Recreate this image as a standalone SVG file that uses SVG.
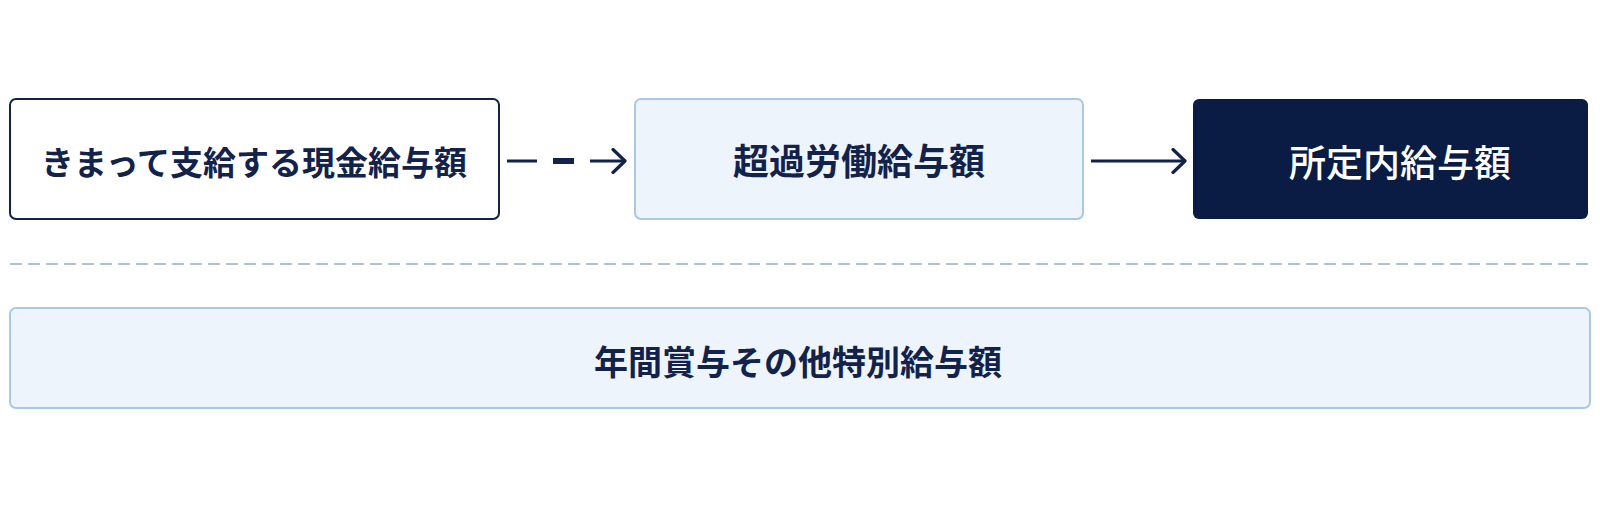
<svg xmlns="http://www.w3.org/2000/svg" width="1600" height="509" viewBox="0 0 1600 509">
<style>
.t{font-family:"Noto Sans CJK JP","Noto Sans",sans-serif;text-anchor:middle;dominant-baseline:central;fill:#13224a;font-weight:700}
.light{fill:#eef4fb;stroke:#a9c7e7;stroke-width:2}
.ln{stroke:#13224a;fill:none;stroke-linecap:butt}
</style>
<defs>
<marker id="chev" viewBox="0 0 16 26" refX="14" refY="13" markerWidth="16" markerHeight="26" markerUnits="userSpaceOnUse" orient="auto">
<path d="M2 1.5 L14 13 L2 24.5" fill="none" stroke="#13224a" stroke-width="3.2" stroke-linecap="round" stroke-linejoin="round"/>
</marker>
</defs>
<rect width="1600" height="509" fill="#ffffff"/>
<g id="node-kimatte">
<rect x="10" y="99" width="489" height="120" rx="6" fill="#ffffff" stroke="#13224a" stroke-width="2"/>
<text class="t" x="254" y="161" font-size="33">きまって支給する現金給与額</text>
</g>
<g id="node-choka">
<rect class="light" x="635" y="99" width="448" height="120" rx="6"/>
<text class="t" x="859" y="159" font-size="36">超過労働給与額</text>
</g>
<g id="node-shoteinai">
<rect x="1193" y="99" width="395" height="120" rx="6" fill="#0a1c44"/>
<text class="t" x="1400" y="161" font-size="37" style="fill:#ffffff;font-weight:500">所定内給与額</text>
</g>
<g id="divider">
<line x1="10" y1="264" x2="1590" y2="264" stroke="#a9c2de" stroke-width="2" stroke-dasharray="12 6"/>
</g>
<g id="node-nenkan">
<rect class="light" x="10" y="308" width="1580" height="100" rx="6"/>
<text class="t" x="798" y="360" font-size="34">年間賞与その他特別給与額</text>
</g>
<g id="connectors">
<line class="ln" x1="507" y1="161" x2="537" y2="161" stroke-width="3"/>
<line class="ln" x1="553" y1="161" x2="574" y2="161" stroke-width="6"/>
<line class="ln" x1="590" y1="161" x2="625" y2="161" stroke-width="3" marker-end="url(#chev)"/>
<line class="ln" x1="1091" y1="161" x2="1185" y2="161" stroke-width="3" marker-end="url(#chev)"/>
</g>
</svg>
